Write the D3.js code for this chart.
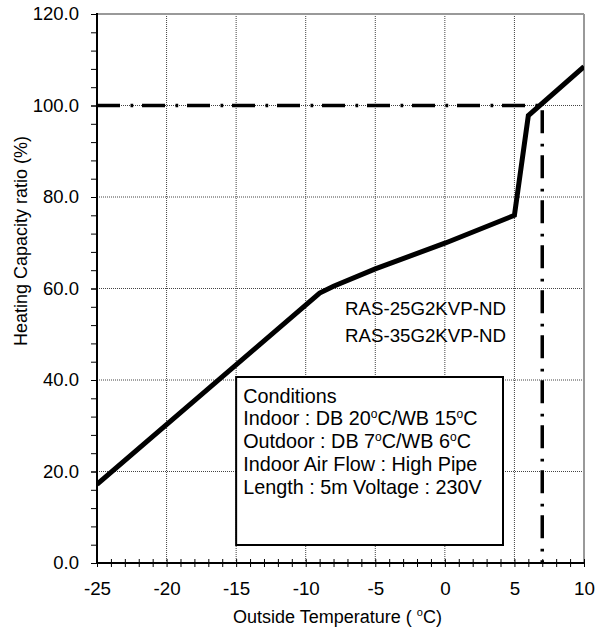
<!DOCTYPE html>
<html><head><meta charset="utf-8">
<script src="https://cdn.jsdelivr.net/npm/d3@7"></script>
<style>
body{margin:0;background:#fff;}
text{font-family:"Liberation Sans",Arial,sans-serif;fill:#000;}
</style></head>
<body><svg id="c" width="609" height="629"></svg>
<script>
// ---- data ----
const curveTemp = [-25, -9, -8, -5, 0, 5, 6, 10];
const curveCap  = [17.2, 59.0, 60.5, 64.3, 69.9, 76.0, 97.8, 108.5];
const refTemp = [-25, 7, 7];
const refCap  = [100, 100, 0];
const xTicks = [-25, -20, -15, -10, -5, 0, 5, 10];
const yTicks = [0, 20, 40, 60, 80, 100, 120];
const xMinor = d3.range(-25, 10.01, 1);
const yMinor = d3.range(0, 120.01, 4);
const models = ["RAS-25G2KVP-ND", "RAS-35G2KVP-ND"];
const conditions = [
  ["Conditions"],
  ["Indoor : DB 20", "o", "C/WB 15", "o", "C"],
  ["Outdoor : DB 7", "o", "C/WB 6", "o", "C"],
  ["Indoor Air Flow : High Pipe"],
  ["Length : 5m Voltage : 230V"]
];

// ---- layout ----
const L = 97, R = 584, T = 14, B = 563;
const svg = d3.select("#c");
const x = d3.scaleLinear().domain([-25, 10]).range([L, R]);
const y = d3.scaleLinear().domain([0, 120]).range([B, T]);

// grid
const g = svg.append("g");
g.selectAll(".vg").data(xTicks.filter(d => d > -25 && d < 10)).join("line")
  .attr("x1", d => x(d)).attr("x2", d => x(d)).attr("y1", T).attr("y2", B)
  .attr("stroke", "#444").attr("stroke-width", 1).attr("stroke-dasharray", "1,1");
g.selectAll(".hg").data(yTicks.filter(d => d > 0 && d < 120)).join("line")
  .attr("x1", L).attr("x2", R).attr("y1", d => y(d)).attr("y2", d => y(d))
  .attr("stroke", "#444").attr("stroke-width", 1).attr("stroke-dasharray", "1,1");

// top/right borders (grey)
svg.append("line").attr("x1", L).attr("x2", R).attr("y1", T).attr("y2", T)
  .attr("stroke", "#999").attr("stroke-width", 2);
svg.append("line").attr("x1", R).attr("x2", R).attr("y1", T).attr("y2", B)
  .attr("stroke", "#999").attr("stroke-width", 2);

// conditions box
const bx = x(-15), by = 377, bw = 503 - x(-15), bh = 545 - 377;
svg.append("rect").attr("x", bx).attr("y", by).attr("width", bw).attr("height", bh)
  .attr("fill", "#fff").attr("stroke", "#000").attr("stroke-width", 2);
const ct = svg.append("text").attr("font-size", "19.8px");
conditions.forEach((parts, i) => {
  const line = ct.append("tspan").attr("x", bx + 7).attr("y", 402.7 + i * 22.7);
  parts.forEach((p, j) => {
    if (p === "o") {
      line.append("tspan").attr("font-size", "12px").attr("dy", -7.5).text(p);
    } else {
      const t = line.append("tspan").text(p);
      if (j > 0 && parts[j-1] === "o") t.attr("dy", 7.5);
    }
  });
});

// model labels
svg.selectAll(".model").data(models).join("text")
  .attr("x", 345).attr("y", (d, i) => 315 + i * 27)
  .attr("font-size", "18.7px").text(d => d);

// reference dash-dot line
const refLine = d3.line().x((d, i) => x(refTemp[i])).y((d, i) => y(refCap[i]));
svg.append("path").datum(refTemp).attr("d", refLine)
  .attr("fill", "none").attr("stroke", "#000").attr("stroke-width", 3.5)
  .attr("stroke-dasharray", "23,10.5,2.7,8.8");

// capacity curve
svg.append("clipPath").attr("id", "clip").append("rect")
  .attr("x", L).attr("y", T).attr("width", R - L).attr("height", B - T);
const curve = d3.line().x((d, i) => x(curveTemp[i])).y((d, i) => y(curveCap[i]));
svg.append("path").datum(curveTemp).attr("d", curve).attr("clip-path", "url(#clip)")
  .attr("fill", "none").attr("stroke", "#000").attr("stroke-width", 5)
  .attr("stroke-linejoin", "miter");

// y axis
const yMin = svg.append("g").attr("transform", `translate(${L},0)`)
  .call(d3.axisLeft(y).tickValues(yMinor).tickSize(6).tickFormat(""));
yMin.select(".domain").remove();
yMin.selectAll("line").attr("stroke", "#000").attr("stroke-width", 1);
const yAx = svg.append("g").attr("transform", `translate(${L},0)`)
  .call(d3.axisLeft(y).tickValues(yTicks).tickSize(6).tickPadding(12).tickFormat(d => d.toFixed(1)));
yAx.select(".domain").remove();
yAx.selectAll("line").attr("stroke", "#000");
yAx.selectAll("text").attr("font-size", "18.5px").attr("font-family", "Liberation Sans, Arial, sans-serif").attr("fill", "#000");

// x axis
const xMin = svg.append("g").attr("transform", `translate(0,${B})`)
  .call(d3.axisBottom(x).tickValues(xMinor).tickSize(4).tickFormat(""));
xMin.select(".domain").remove();
xMin.selectAll("line").attr("y1", -4).attr("y2", 4).attr("stroke", "#000").attr("stroke-width", 1);
const xAx = svg.append("g").attr("transform", `translate(0,${B})`)
  .call(d3.axisBottom(x).tickValues(xTicks).tickSize(0).tickPadding(19).tickFormat(d => String(d)));
xAx.select(".domain").remove();
xAx.selectAll("text").attr("font-size", "18.8px").attr("font-family", "Liberation Sans, Arial, sans-serif").attr("fill", "#000");

// axis lines
svg.append("line").attr("x1", L).attr("x2", L).attr("y1", T - 1).attr("y2", B + 1)
  .attr("stroke", "#000").attr("stroke-width", 2);
svg.append("line").attr("x1", L).attr("x2", R + 1).attr("y1", B).attr("y2", B)
  .attr("stroke", "#000").attr("stroke-width", 2);

// axis titles
const xt = svg.append("text").attr("x", 233).attr("y", 623).attr("font-size", "18px");
xt.append("tspan").text("Outside Temperature ( ");
xt.append("tspan").attr("font-size", "11px").attr("dy", -7).text("o");
xt.append("tspan").attr("dy", 7).text("C)");
svg.append("text").attr("transform", "translate(27,241) rotate(-90)")
  .attr("text-anchor", "middle").attr("font-size", "18px")
  .text("Heating Capacity ratio (%)");
</script></body></html>
